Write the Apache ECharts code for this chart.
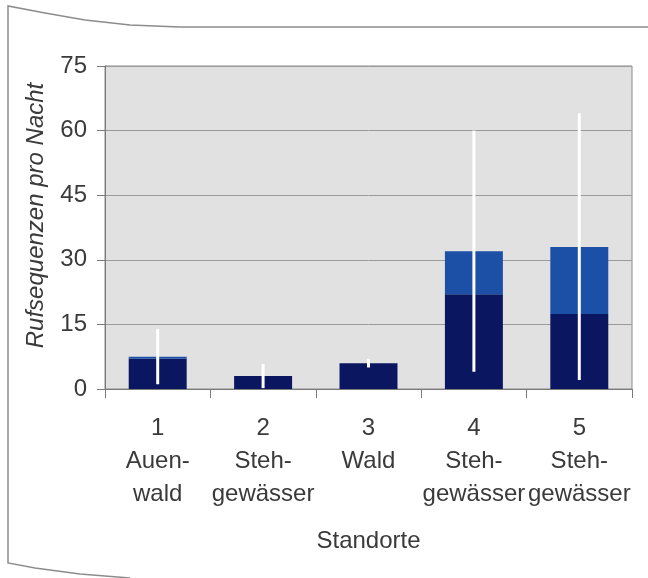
<!DOCTYPE html>
<html>
<head>
<meta charset="utf-8">
<script src="https://cdn.jsdelivr.net/npm/echarts@6/dist/echarts.min.js"></script>
<style>
html,body{margin:0;padding:0;background:#fff;}
#chart{width:648px;height:578px;}
</style>
</head>
<body>
<div id="chart"></div>
<script>
// ---- data ----
var categories = ['1\nAuen-\nwald', '2\nSteh-\ngewässer', '3\nWald', '4\nSteh-\ngewässer', '5\nSteh-\ngewässer'];
var darkValues = [7.0, 3.0, 6.0, 22.0, 17.4];
var lightValues = [0.5, 0, 0, 10.0, 15.6];
var errLow = [1.1, 0.2, 5.0, 4.0, 2.1];
var errHigh = [13.9, 5.8, 7.0, 60.0, 64.0];
var yTicks = [0, 15, 30, 45, 60, 75];

var FONT = '"Liberation Sans", Arial, sans-serif';
var TXT = '#3a3a3a';

var chart = echarts.init(document.getElementById('chart'), null, {renderer: 'canvas'});

var errData = categories.map(function (c, i) { return [i, errLow[i], errHigh[i]]; });

chart.setOption({
  animation: false,
  backgroundColor: '#ffffff',
  grid: {
    left: 105, right: 16, top: 66, bottom: 189,
    show: true, backgroundColor: '#e1e1e1', borderColor: '#8a8a8a', borderWidth: 1
  },
  xAxis: {
    type: 'category',
    data: categories,
    name: 'Standorte',
    nameLocation: 'middle',
    nameGap: 140,
    nameTextStyle: {fontFamily: FONT, fontSize: 24, color: TXT},
    axisLine: {lineStyle: {color: '#7a7a7a', width: 1}},
    axisTick: {show: true, length: 9, lineStyle: {color: '#7a7a7a'}},
    axisLabel: {fontFamily: FONT, fontSize: 24, color: TXT, lineHeight: 33, margin: 23, interval: 0}
  },
  yAxis: {
    type: 'value',
    min: yTicks[0], max: yTicks[yTicks.length - 1], interval: 15,
    name: 'Rufsequenzen pro Nacht',
    nameLocation: 'middle',
    nameGap: 57,
    nameTextStyle: {fontFamily: FONT, fontSize: 24, color: TXT, fontStyle: 'italic', padding: [0, 0, 0, 24]},
    axisLine: {show: true, lineStyle: {color: '#7a7a7a', width: 1}},
    axisTick: {show: true, length: 8, lineStyle: {color: '#7a7a7a'}},
    axisLabel: {fontFamily: FONT, fontSize: 24, color: TXT, margin: 18},
    splitLine: {show: true, lineStyle: {color: '#9a9a9a', width: 1}}
  },
  series: [
    {
      type: 'bar', stack: 'a', data: darkValues, barWidth: '55%',
      itemStyle: {color: '#0b1661'}
    },
    {
      type: 'bar', stack: 'a', data: lightValues, barWidth: '55%',
      itemStyle: {color: '#1c4fa6'}
    },
    {
      type: 'custom',
      z: 10,
      data: errData,
      renderItem: function (params, api) {
        var x = api.value(0);
        var lo = api.coord([x, api.value(1)]);
        var hi = api.coord([x, api.value(2)]);
        return {
          type: 'line',
          shape: {x1: lo[0], y1: lo[1], x2: hi[0], y2: hi[1]},
          style: {stroke: '#ffffff', lineWidth: 3}
        };
      }
    }
  ],
  graphic: [
    {
      type: 'polyline',
      silent: true,
      shape: {
        points: [[648, 27], [180, 27], [130, 25], [85, 20], [45, 13], [8, 6], [8, 563], [35, 568], [80, 574], [130, 578]]
      },
      style: {stroke: '#8c8c8c', lineWidth: 1.5, fill: null}
    }
  ]
});
</script>
</body>
</html>
